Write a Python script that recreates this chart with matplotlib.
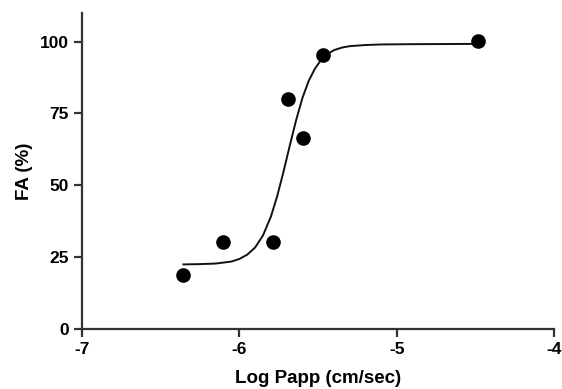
import matplotlib.pyplot as plt

# measured points
log_papp = [-6.356, -6.106, -5.785, -5.693, -5.594, -5.471, -4.482]
fa = [18.9, 30.2, 30.2, 80.1, 66.3, 95.2, 100.1]

# fitted curve
curve_x = [-6.356, -6.25, -6.15, -6.05, -6.00, -5.95, -5.90, -5.85, -5.80,
           -5.76, -5.72, -5.68, -5.64, -5.60, -5.56, -5.52, -5.48, -5.44,
           -5.40, -5.35, -5.30, -5.20, -5.10, -4.90, -4.48]
curve_y = [22.5, 22.6, 22.8, 23.5, 24.4, 25.9, 28.4, 32.6, 39.1,
           46.2, 54.7, 63.8, 72.6, 80.3, 86.3, 90.6, 93.7, 95.7,
           97.0, 97.9, 98.4, 98.8, 99.0, 99.1, 99.2]

plt.rcParams['font.family'] = ['Liberation Sans', 'DejaVu Sans']
plt.rcParams['axes.unicode_minus'] = False
fig = plt.figure(figsize=(5.62, 3.89), dpi=100)
ax = fig.add_axes([0.146, 0.154, 0.84, 0.813])

ax.plot(curve_x, curve_y, color='#111111', linewidth=1.4, zorder=2,
        solid_joinstyle='round')
ax.plot(log_papp, fa, 'o', color='black', markersize=9.5, zorder=3)

ax.set_xlim(-7, -4)
ax.set_ylim(0, 110)
ax.set_xticks([-7, -6, -5, -4])
ax.set_yticks([0, 25, 50, 75, 100])

for s in ['top', 'right']:
    ax.spines[s].set_visible(False)
for s in ['left', 'bottom']:
    ax.spines[s].set_linewidth(1.6)
    ax.spines[s].set_color('#333333')
ax.tick_params(width=1.6, length=6, color='#333333', labelsize=12.5)
for lab in ax.get_xticklabels() + ax.get_yticklabels():
    lab.set_fontweight('bold')

ax.set_xlabel('Log Papp (cm/sec)', fontsize=13.5, fontweight='bold', labelpad=9)
ax.set_ylabel('FA (%)', fontsize=13.5, fontweight='bold', labelpad=5)

fig.savefig('out.png', dpi=100)
